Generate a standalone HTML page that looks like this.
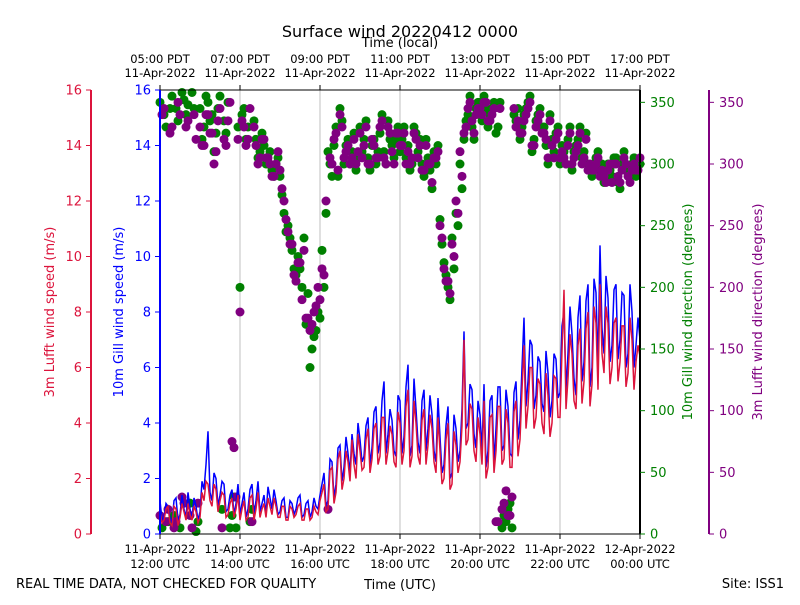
<!DOCTYPE html>
<html><head><meta charset="utf-8">
<style>
html,body{margin:0;padding:0;background:#fff;}
svg text{font-family:"DejaVu Sans","Liberation Sans",sans-serif;}
</style></head>
<body>
<svg id="chart" width="800" height="600" xmlns="http://www.w3.org/2000/svg">
<rect width="800" height="600" fill="#fff"/>
<g id="grid"></g>
<g id="dirs"></g>
<g id="speeds"></g>
<g id="axes"></g>
</svg>
<script>
const startHour = 12, stepHour = 0.1;
const gillSpeed = [1.2,0.6,1.0,0.4,1.3,0.7,0.9,1.5,0.6,1.0,
0.8,1.6,3.7,1.2,2.0,1.4,1.8,0.9,1.6,1.1,
0.7,1.5,0.9,1.8,1.2,0.8,1.4,1.7,0.9,1.2,
0.8,1.3,0.6,1.1,0.9,1.4,0.7,1.2,0.8,1.0,
1.4,2.2,1.2,2.6,1.8,3.2,2.4,2.9,3.6,2.5,
3.4,2.8,4.2,3.1,4.6,3.3,5.5,3.6,4.1,2.8,
4.8,3.5,6.1,3.2,4.5,2.9,5.2,3.8,4.3,2.6,
3.5,2.5,4.6,2.2,3.8,3.0,7.3,4.0,5.2,3.1,
4.3,5.4,3.0,5.0,3.8,5.3,3.2,4.6,2.8,5.5,
4.1,7.8,5.5,6.8,5.0,6.2,4.4,5.8,4.8,6.3,
5.1,8.0,6.5,7.2,5.0,8.6,6.2,9.0,6.0,8.7,
10.4,6.5,8.5,6.8,9.0,7.0,8.6,6.5,8.0,6.8,7.0];
const gillSpeedMid = [0.5,1.1,0.6,1.2,0.5,1.4,0.6,0.9,1.3,0.5,
1.9,2.5,1.5,2.2,1.0,1.9,0.8,1.4,0.7,1.8,
1.1,0.6,1.6,0.7,1.9,1.1,0.7,1.3,1.6,0.7,
1.2,0.6,1.2,0.7,1.3,0.6,1.1,0.6,1.3,0.9,
1.8,1.0,2.7,1.3,3.1,1.9,3.5,2.2,2.9,4.0,
2.6,3.9,2.5,4.4,2.9,4.8,2.9,4.5,3.0,5.0,
2.9,5.3,2.8,5.6,3.3,4.8,3.0,5.0,3.0,4.9,
2.2,3.9,2.0,4.3,2.6,4.5,3.8,5.4,3.6,4.8,
3.0,2.4,4.8,2.6,5.3,3.0,5.2,2.9,5.1,3.4,
6.0,4.6,7.0,4.5,6.4,4.7,6.6,4.2,6.5,4.9,
7.5,5.2,8.2,5.6,7.8,5.5,8.4,5.3,9.2,6.0,
7.4,9.3,6.2,8.8,6.3,8.7,6.0,9.0,6.0,7.8];
const lufftSpeed = [0.8,0.5,1.0,0.3,0.9,0.6,0.8,1.1,0.5,0.8,
0.6,1.2,1.8,1.0,1.6,1.2,1.4,0.7,1.3,0.9,
0.5,1.2,0.6,1.4,0.9,0.6,1.1,1.3,0.7,1.0,
0.6,1.0,0.5,0.9,0.7,1.1,0.5,0.9,0.6,0.8,
1.2,1.8,0.9,2.4,1.5,3.0,2.0,2.6,3.4,2.0,
3.0,2.4,3.8,2.7,4.0,2.8,4.2,3.0,3.6,2.4,
4.0,3.0,5.2,2.8,4.0,2.5,4.5,3.2,3.8,2.2,
3.0,2.0,4.0,1.8,3.2,2.6,7.0,3.4,4.5,2.6,
3.6,4.8,2.4,4.3,3.0,4.6,2.7,4.0,2.4,4.8,
3.4,6.8,4.6,6.0,4.2,5.4,3.6,5.0,4.0,5.6,
4.2,8.8,5.6,6.5,4.5,7.4,5.5,8.0,5.4,7.6,
9.0,5.8,7.6,6.0,7.8,6.2,7.5,5.8,7.0,6.2,6.4];
const lufftSpeedMid = [0.4,0.9,0.4,1.0,0.3,1.1,0.5,0.7,1.0,0.4,
1.5,1.9,1.2,1.8,0.8,1.5,0.6,1.1,0.6,1.4,
0.9,0.5,1.3,0.5,1.5,0.9,0.6,1.0,1.3,0.6,
1.0,0.5,1.0,0.6,1.0,0.5,0.9,0.5,1.0,0.7,
1.5,0.8,2.3,1.1,2.7,1.6,3.0,1.9,2.5,3.6,
2.3,3.4,2.2,3.8,2.5,4.2,2.5,3.9,2.6,4.4,
2.5,4.6,2.4,4.8,2.8,4.1,2.5,4.3,2.6,4.2,
1.8,3.4,1.6,3.7,2.2,3.9,3.2,4.7,3.0,4.2,
2.5,2.0,4.2,2.2,4.6,2.5,4.5,2.4,4.4,2.8,
5.2,3.8,6.0,3.8,5.6,4.0,5.8,3.5,5.7,4.2,
6.6,4.5,7.2,4.8,6.8,4.7,7.4,4.6,8.2,5.2,
6.5,8.2,5.4,7.6,5.5,7.5,5.3,7.8,5.2,6.8];
const gillDir = [350,340,10,355,345,5,352,348,358,2,
345,330,350,340,325,355,335,350,15,5,
200,345,330,20,320,310,315,300,295,300,
290,260,250,230,210,215,240,195,150,165,
175,200,310,290,330,345,300,320,310,295,
330,320,305,315,300,325,310,335,315,320,
310,330,315,300,325,320,290,305,280,300,
255,220,200,240,260,300,320,340,330,345,
350,355,330,345,325,350,15,20,5,335,
320,340,350,310,335,345,330,300,320,325,
300,310,320,295,315,330,310,300,290,305,
295,285,300,290,305,280,310,295,300,290,300];
const gillDirMid = [5,330,345,15,335,358,340,25,345,10,
320,355,335,310,345,20,325,5,30,330,
340,320,10,335,305,325,300,310,290,305,
275,245,240,215,225,200,170,135,160,180,
230,260,300,315,290,335,315,300,325,305,
310,335,295,320,310,340,300,320,305,330,
320,305,295,330,310,300,320,295,310,315,
235,210,190,215,250,280,335,355,320,350,
335,345,340,350,330,5,10,25,340,345,
330,345,355,320,340,330,315,340,310,330,
315,300,330,310,320,305,325,295,300,310,
300,290,295,305,285,300,295,290,305,300];
const lufftDir = [15,345,20,330,10,340,25,335,5,320,
330,315,340,325,310,345,320,335,75,30,
180,330,320,10,315,305,320,305,290,300,
295,270,245,235,205,220,230,175,170,185,
190,210,20,300,325,340,305,315,305,300,
325,315,300,320,305,330,305,330,310,325,
315,325,310,305,320,315,295,300,285,305,
250,215,205,235,270,310,325,345,335,340,
345,350,335,340,10,345,25,15,30,330,
325,335,345,315,330,340,325,305,315,320,
305,305,315,300,310,325,305,295,295,300,
290,290,295,285,300,285,305,290,295,295,305];
const lufftDirMid = [340,10,325,5,350,30,330,15,340,25,
315,340,325,300,335,5,315,350,70,320,
335,315,345,330,300,320,305,300,290,310,
280,255,235,210,220,190,175,165,180,200,
215,270,305,320,295,330,310,300,320,310,
305,330,300,315,305,335,300,325,300,325,
315,300,300,325,305,295,315,300,305,310,
240,205,195,225,260,290,330,350,325,345,
340,350,335,345,10,20,35,15,345,335,
325,340,350,315,335,325,320,335,305,325,
310,300,325,305,315,300,320,300,295,305,
295,285,300,300,290,295,300,285,300,295];
const topLabels = [["05:00 PDT","11-Apr-2022"],["07:00 PDT","11-Apr-2022"],["09:00 PDT","11-Apr-2022"],["11:00 PDT","11-Apr-2022"],["13:00 PDT","11-Apr-2022"],["15:00 PDT","11-Apr-2022"],["17:00 PDT","11-Apr-2022"]];
const bottomLabels = [["11-Apr-2022","12:00 UTC"],["11-Apr-2022","14:00 UTC"],["11-Apr-2022","16:00 UTC"],["11-Apr-2022","18:00 UTC"],["11-Apr-2022","20:00 UTC"],["11-Apr-2022","22:00 UTC"],["12-Apr-2022","00:00 UTC"]];
const speedTicks = [0,2,4,6,8,10,12,14,16];
const dirTicks = [0,50,100,150,200,250,300,350];

const L=160,R=640,T=90,B=534;
const xT = h => L + (h-12)/12*(R-L);
const yS = v => B - v/16*(B-T);
const yD = d => B - d/360*(B-T);
const NS="http://www.w3.org/2000/svg";
function mk(tag, attrs, parent, txt){const e=document.createElementNS(NS,tag);for(const k in attrs)e.setAttribute(k,attrs[k]);if(txt!==undefined)e.textContent=txt;parent.appendChild(e);return e;}
const grid=document.getElementById('grid'),dirs=document.getElementById('dirs'),speeds=document.getElementById('speeds'),axes=document.getElementById('axes');

for(let i=1;i<6;i++){const l=mk('line',{x1:xT(12+2*i),x2:xT(12+2*i),y1:T,y2:B,stroke:'#b0b0b0','stroke-width':0.8},grid);

}

function merge(main,mid){const pts=[];main.forEach((v,i)=>{pts.push([startHour+i*stepHour,v]);if(i<mid.length)pts.push([startHour+(i+0.5)*stepHour,mid[i]]);});return pts;}

function dots(pts,color,name){pts.forEach(p=>{const c=mk('circle',{cx:xT(p[0]),cy:yD(p[1]),r:4.5,fill:color},dirs);

});}
dots(merge(gillDir,gillDirMid),'#008000','gill-direction-point');
dots(merge(lufftDir,lufftDirMid),'#800080','lufft-direction-point');

function line(pts,color,name){const p=pts.map(q=>xT(q[0]).toFixed(1)+','+yS(q[1]).toFixed(1)).join(' ');
const pl=mk('polyline',{points:p,fill:'none',stroke:color,'stroke-width':1.5},speeds);

}
line(merge(gillSpeed,gillSpeedMid),'#0000ff','gill-speed-line');
line(merge(lufftSpeed,lufftSpeedMid),'#dc143c','lufft-speed-line');

mk('line',{x1:L,x2:R,y1:T,y2:T,stroke:'#000'},axes);
mk('line',{x1:L,x2:R,y1:B,y2:B,stroke:'#000'},axes);
mk('line',{x1:L,x2:L,y1:T,y2:B,stroke:'#0000ff','stroke-width':2},axes);
mk('line',{x1:R,x2:R,y1:T,y2:B,stroke:'#000','stroke-width':2},axes);
mk('line',{x1:91,x2:91,y1:T,y2:B,stroke:'#dc143c','stroke-width':2},axes);
mk('line',{x1:709,x2:709,y1:T,y2:B,stroke:'#800080','stroke-width':2},axes);

speedTicks.forEach(v=>{const y=yS(v);
mk('line',{x1:86,x2:91,y1:y,y2:y,stroke:'#dc143c'},axes);
const t1=mk('text',{x:82,y:y+4.5,'text-anchor':'end','font-size':13,fill:'#dc143c'},axes,v);


mk('line',{x1:155,x2:160,y1:y,y2:y,stroke:'#0000ff'},axes);
const t2=mk('text',{x:151,y:y+4.5,'text-anchor':'end','font-size':13,fill:'#0000ff'},axes,v);

});
dirTicks.forEach(v=>{const y=yD(v);
mk('line',{x1:640,x2:645,y1:y,y2:y,stroke:'#008000'},axes);
const t1=mk('text',{x:650,y:y+4.5,'font-size':13,fill:'#008000'},axes,v);


mk('line',{x1:709,x2:714,y1:y,y2:y,stroke:'#800080'},axes);
const t2=mk('text',{x:719,y:y+4.5,'font-size':13,fill:'#800080'},axes,v);

});
topLabels.forEach((lb,i)=>{const x=xT(12+2*i);
mk('line',{x1:x,x2:x,y1:T-5,y2:T,stroke:'#000'},axes);
const a=mk('text',{x:x,y:63,'text-anchor':'middle','font-size':11.5},axes,lb[0]);


mk('text',{x:x,y:77,'text-anchor':'middle','font-size':11.5},axes,lb[1]);});
bottomLabels.forEach((lb,i)=>{const x=xT(12+2*i);
mk('line',{x1:x,x2:x,y1:B,y2:B+5,stroke:'#000'},axes);
const a=mk('text',{x:x,y:553,'text-anchor':'middle','font-size':11.5},axes,lb[0]);


mk('text',{x:x,y:568,'text-anchor':'middle','font-size':11.5},axes,lb[1]);});

function label(x,y,txt,name,opts){const t=mk('text',Object.assign({x:x,y:y},opts),axes,txt);

return t;}
label(400,37,'Surface wind 20220412 0000','chart-title',{'text-anchor':'middle','font-size':16});
label(400,47,'Time (local)','top-axis-title',{'text-anchor':'middle','font-size':13});
label(400,589,'Time (UTC)','bottom-axis-title',{'text-anchor':'middle','font-size':13});
label(16,588,'REAL TIME DATA, NOT CHECKED FOR QUALITY','quality-note',{'font-size':13});
label(784,588,'Site: ISS1','site-label',{'text-anchor':'end','font-size':13});
label(0,0,'3m Lufft wind speed (m/s)','lufft-speed-axis-title',{'text-anchor':'middle','font-size':13,fill:'#dc143c',transform:'translate(54,312) rotate(-90)'});
label(0,0,'10m Gill wind speed (m/s)','gill-speed-axis-title',{'text-anchor':'middle','font-size':13,fill:'#0000ff',transform:'translate(123,312) rotate(-90)'});
label(0,0,'10m Gill wind direction (degrees)','gill-direction-axis-title',{'text-anchor':'middle','font-size':13,fill:'#008000',transform:'translate(692,312) rotate(-90)'});
label(0,0,'3m Lufft wind direction (degrees)','lufft-direction-axis-title',{'text-anchor':'middle','font-size':13,fill:'#800080',transform:'translate(762,312) rotate(-90)'});
</script>
</body></html>
